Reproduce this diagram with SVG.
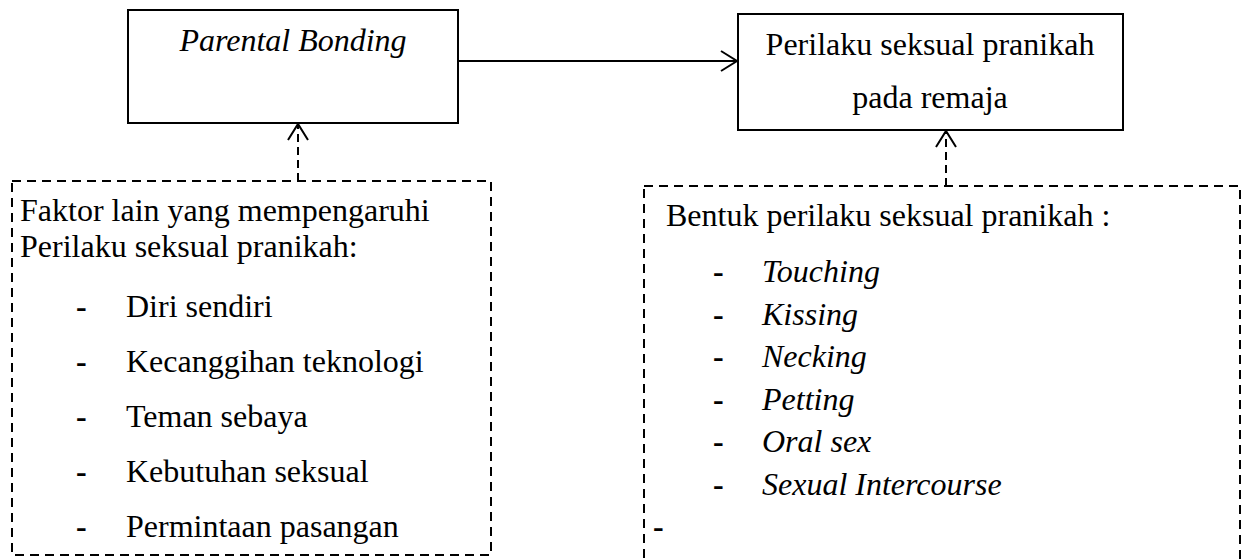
<svg xmlns="http://www.w3.org/2000/svg" width="1246" height="560" viewBox="0 0 1246 560">
<defs>
<style>
text{font-family:"Liberation Serif","Times New Roman",serif;font-size:32px;fill:#000}
.it{font-style:italic}
.c{text-anchor:middle}
.b{font-weight:bold}
.solid{fill:#fff;stroke:#000;stroke-width:2}
.dash{fill:none;stroke:#000;stroke-width:2;stroke-dasharray:9 6}
.line{fill:none;stroke:#000;stroke-width:2}
.dline{fill:none;stroke:#000;stroke-width:2;stroke-dasharray:8 5}
</style>
<marker id="open" viewBox="0 0 20 24" refX="18" refY="12" markerWidth="20" markerHeight="24" markerUnits="userSpaceOnUse" orient="auto">
<path d="M2,2 L18,12 L2,22" fill="none" stroke="#000" stroke-width="2"/>
</marker>
</defs>
<rect width="1246" height="560" fill="#fff"/>
<g id="connectors">
<line class="line" x1="458" y1="61" x2="737" y2="61" marker-end="url(#open)"/>
<line class="dline" x1="298" y1="181" x2="298" y2="124" marker-end="url(#open)"/>
<line class="dline" x1="946" y1="186" x2="946" y2="131" marker-end="url(#open)"/>
</g>
<g id="parental-bonding">
<rect class="solid" x="128" y="10" width="330" height="113"/>
<text class="it c" x="293" y="51">Parental Bonding</text>
</g>
<g id="perilaku-seksual">
<rect class="solid" x="738" y="14" width="385" height="116"/>
<text class="c" x="930" y="55">Perilaku seksual pranikah</text>
<text class="c" x="930" y="108">pada remaja</text>
</g>
<g id="faktor-lain">
<rect class="dash" x="12" y="181" width="479" height="374"/>
<text x="20" y="221">Faktor lain yang mempengaruhi</text>
<text x="20" y="257">Perilaku seksual pranikah:</text>
<text class="b" x="76" y="317">-</text><text x="126" y="317">Diri sendiri</text>
<text class="b" x="76" y="372">-</text><text x="126" y="372">Kecanggihan teknologi</text>
<text class="b" x="76" y="427">-</text><text x="126" y="427">Teman sebaya</text>
<text class="b" x="76" y="482">-</text><text x="126" y="482">Kebutuhan seksual</text>
<text class="b" x="76" y="537">-</text><text x="126" y="537">Permintaan pasangan</text>
</g>
<g id="bentuk-perilaku">
<rect class="dash" x="644" y="186" width="596" height="400"/>
<text x="666" y="226">Bentuk perilaku seksual pranikah :</text>
<text class="b" x="713" y="282">-</text><text class="it" x="762" y="282">Touching</text>
<text class="b" x="713" y="325">-</text><text class="it" x="762" y="325">Kissing</text>
<text class="b" x="713" y="367">-</text><text class="it" x="762" y="367">Necking</text>
<text class="b" x="713" y="410">-</text><text class="it" x="762" y="410">Petting</text>
<text class="b" x="713" y="452">-</text><text class="it" x="762" y="452">Oral sex</text>
<text class="b" x="713" y="495">-</text><text class="it" x="762" y="495">Sexual Intercourse</text>
<text class="b" x="653" y="537">-</text>
</g>
</svg>
